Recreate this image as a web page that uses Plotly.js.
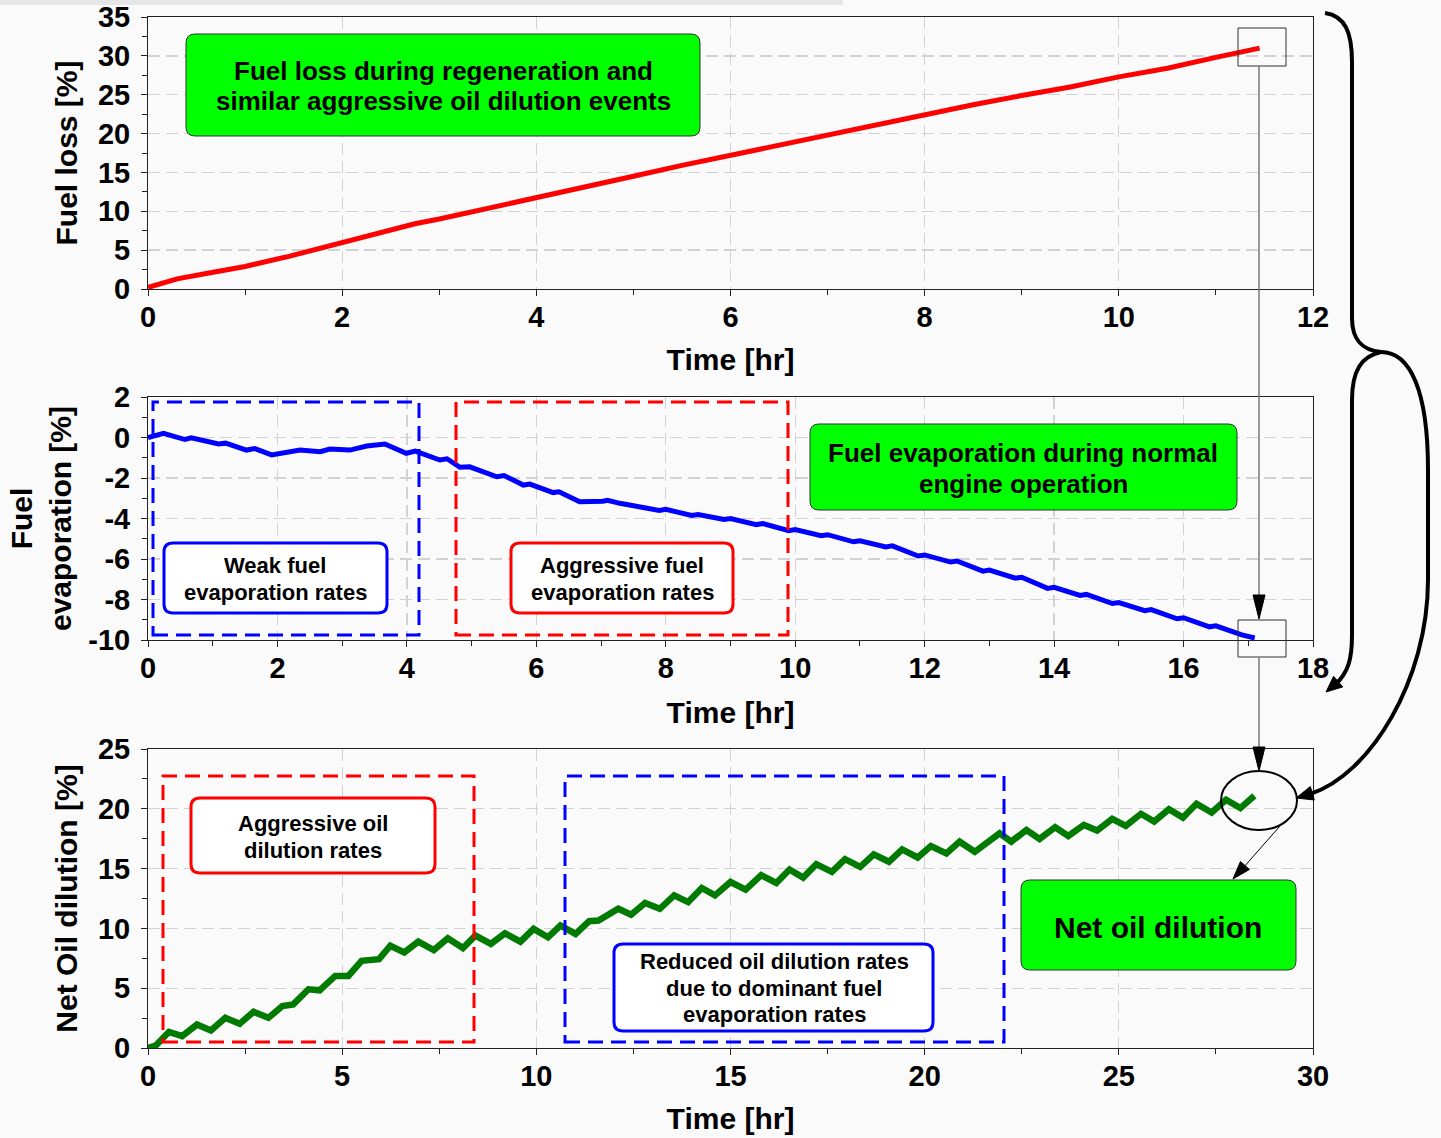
<!DOCTYPE html>
<html><head><meta charset="utf-8">
<script src="https://cdn.plot.ly/plotly-3.0.1.min.js"></script>
<style>html,body{margin:0;padding:0;background:#fafafa}</style>
</head><body><div id="chart" style="width:1441px;height:1138px"></div>
<script>
// ---------- data ----------
const fuelLossTime = [0,0.3,0.6,1.0,1.45,1.7,2.0,2.4,2.75,3.0,3.4,4.0,4.5,5.0,5.5,6.0,6.5,7.0,7.5,8.0,8.5,9.0,9.5,10.0,10.5,11.0,11.45];
const fuelLoss     = [0.2,1.3,2.0,2.9,4.2,5.0,6.1,7.3,8.4,9.0,10.1,11.6,13.0,14.5,15.9,17.2,18.5,19.8,21.1,22.5,23.7,24.9,26.0,27.3,28.4,29.8,31.0];

const evapTime = [0,0.24,0.57,0.67,1.09,1.2,1.52,1.65,1.91,2.1,2.35,2.66,2.81,3.12,3.38,3.66,3.99,4.13,4.51,4.62,4.82,4.97,5.39,5.5,5.8,5.9,6.26,6.35,6.67,7.03,7.1,7.29,7.6,7.9,8.0,8.4,8.5,8.9,9.0,9.4,9.5,9.9,10.0,10.4,10.5,10.9,11.0,11.4,11.5,11.9,12.0,12.4,12.5,12.9,13.0,13.4,13.5,13.9,14.0,14.4,14.5,14.9,15.0,15.4,15.5,15.9,16.0,16.4,16.5,16.9,17.1];
const fuelEvap = [0.0,0.2,-0.1,-0.02,-0.32,-0.28,-0.62,-0.55,-0.86,-0.78,-0.62,-0.7,-0.57,-0.62,-0.42,-0.32,-0.78,-0.67,-1.11,-1.05,-1.47,-1.45,-1.94,-1.88,-2.35,-2.3,-2.72,-2.68,-3.17,-3.15,-3.1,-3.25,-3.45,-3.6,-3.55,-3.85,-3.8,-4.05,-4.0,-4.3,-4.25,-4.6,-4.55,-4.85,-4.8,-5.15,-5.1,-5.4,-5.35,-5.85,-5.8,-6.15,-6.1,-6.6,-6.55,-6.95,-6.9,-7.45,-7.4,-7.8,-7.75,-8.2,-8.15,-8.55,-8.5,-8.95,-8.9,-9.35,-9.3,-9.75,-9.9];
const evapTickVals = [2,0,-2,-4,-6,-8,-10];
const evapTickText = ['2','0','-2','-4','-6','-8','-10'];

const netTime = [0,0.2,0.54,0.88,1.26,1.62,1.99,2.36,2.72,3.10,3.46,3.74,4.13,4.42,4.82,5.16,5.5,5.95,6.24,6.6,6.96,7.36,7.72,8.11,8.43,8.83,9.19,9.59,9.93,10.3,10.62,11.01,11.36,11.6,12.11,12.44,12.8,13.18,13.55,13.91,14.26,14.6,15.0,15.39,15.79,16.18,16.52,16.87,17.21,17.61,17.95,18.34,18.69,19.08,19.42,19.82,20.16,20.56,20.9,21.29,21.93,22.23,22.62,22.96,23.36,23.7,24.1,24.44,24.83,25.18,25.57,25.91,26.29,26.65,27.0,27.39,27.76,28.13,28.49];
const netDilution = [0,0.2,1.35,1.0,1.96,1.46,2.52,2.02,3.03,2.52,3.51,3.65,4.91,4.82,6.03,6.03,7.29,7.43,8.55,7.99,8.89,8.19,9.17,8.36,9.4,8.7,9.59,8.89,9.96,9.26,10.24,9.54,10.6,10.66,11.64,11.14,12.12,11.64,12.76,12.2,13.38,12.76,13.88,13.24,14.45,13.8,14.92,14.25,15.37,14.73,15.79,15.15,16.19,15.57,16.61,15.93,16.89,16.27,17.25,16.41,17.95,17.25,18.23,17.48,18.46,17.73,18.65,18.18,19.16,18.57,19.58,18.93,19.97,19.27,20.42,19.69,20.76,20.06,21.09];

// ---------- geometry helpers (pixel -> paper) ----------
const L=148,R=1313,T=17,B=1048,W=R-L,H=B-T;
const px=x=>(x-L)/W, py=y=>(B-y)/H;
function path(segs){
  return segs.map(s=>{
    if(s[0]==='Z') return 'Z';
    let out=s[0];
    for(let i=1;i<s.length;i+=2){ out+=' '+px(s[i]).toFixed(5)+','+py(s[i+1]).toFixed(5)+' '; }
    return out.trim();
  }).join(' ');
}
function roundRect(x0,y0,x1,y1,r){
  return path([['M',x0+r,y0],['L',x1-r,y0],['Q',x1,y0,x1,y0+r],['L',x1,y1-r],['Q',x1,y1,x1-r,y1],
    ['L',x0+r,y1],['Q',x0,y1,x0,y1-r],['L',x0,y0+r],['Q',x0,y0,x0+r,y0],['Z']]);
}
function arrowHead(tx,ty,dx,dy,len,hw){
  const n=Math.hypot(dx,dy); dx/=n; dy/=n;
  const bx=tx-dx*len, by=ty-dy*len;
  return {type:'path',xref:'paper',yref:'paper',layer:'above',
    path:path([['M',tx,ty],['L',bx-dy*hw,by+dx*hw],['L',bx+dy*hw,by-dx*hw],['Z']]),
    fillcolor:'#000',line:{color:'#000',width:1}};
}
function pRect(x0,y0,x1,y1,color,dash,width,fill){
  return {type:'rect',xref:'paper',yref:'paper',layer:'above',x0:px(x0),x1:px(x1),y0:py(y1),y1:py(y0),
    line:{color:color,width:width,dash:dash||'solid'},fillcolor:fill||'rgba(0,0,0,0)'};
}
function rBox(x0,y0,x1,y1,border,bw,fill){
  return {type:'path',xref:'paper',yref:'paper',layer:'above',path:roundRect(x0,y0,x1,y1,9),
    line:{color:border,width:bw},fillcolor:fill};
}
const FONT='Liberation Sans, Arial, sans-serif';
function labelLines(lines,cx,cy,size,gap){
  const n=lines.length;
  return lines.map((t,i)=>({xref:'paper',yref:'paper',x:px(cx),y:py(cy+(i-(n-1)/2)*gap),
    xanchor:'center',yanchor:'middle',showarrow:false,text:t,
    font:{family:FONT,size:size,color:'#000',weight:'bold'}}));
}

function axis(opts){
  return Object.assign({
    showline:true,linecolor:'#222',linewidth:1,mirror:true,zeroline:false,
    ticks:'outside',ticklen:6,tickcolor:'#222',tickwidth:1,
    showgrid:true,gridcolor:'#d2d2d2',gridwidth:1.3,griddash:'12px,6px',
    tickfont:{family:FONT,size:29,color:'#000',weight:'bold'},
    automargin:false,fixedrange:true
  },opts);
}
function title(t,standoff){return {text:t,standoff:standoff,font:{family:FONT,size:30,color:'#000',weight:'bold'}};}
const minorX=(d)=>({dtick:d,tick0:0,ticks:'outside',ticklen:5,tickcolor:'#222',showgrid:false});

const traces=[
  {x:fuelLossTime,y:fuelLoss,xaxis:'x',yaxis:'y',mode:'lines',line:{color:'#ff0000',width:5},hoverinfo:'skip'},
  {x:evapTime,y:fuelEvap,xaxis:'x2',yaxis:'y2',mode:'lines',line:{color:'#0000ff',width:5},hoverinfo:'skip'},
  {x:netTime,y:netDilution,xaxis:'x3',yaxis:'y3',mode:'lines',line:{color:'#007a00',width:6.5},hoverinfo:'skip'}
];

const shapes=[
  {type:'rect',xref:'paper',yref:'paper',layer:'below',x0:px(0),x1:px(843),y0:py(5),y1:py(0),fillcolor:'#e6e6e6',line:{width:0}},
  rBox(186,34,700,136,'#333',1,'#00ff00'),
  pRect(153,402,419,635,'#0000ff','15px,8px',3),
  pRect(456,402,788,635,'#ff0000','15px,8px',3),
  rBox(164,543,387,613,'#0000ff',3,'#ffffff'),
  rBox(511,543,733,613,'#ff0000',3,'#ffffff'),
  rBox(810,424,1237,510,'#333',1,'#00ff00'),
  pRect(163,776,474,1042,'#ff0000','15px,8px',3),
  pRect(565,776,1004,1042,'#0000ff','15px,8px',3),
  rBox(191,798,435,873,'#ff0000',3,'#ffffff'),
  rBox(614,944,933,1031,'#0000ff',3,'#ffffff'),
  rBox(1021,880,1296,970,'#333',1,'#00ff00'),
  pRect(1238,28,1286,66,'#333','solid',1),
  pRect(1238,620,1286,657,'#333','solid',1),
  {type:'line',xref:'paper',yref:'paper',layer:'above',x0:px(1259),x1:px(1259),y0:py(66),y1:py(605),line:{color:'#777',width:1.5}},
  {type:'line',xref:'paper',yref:'paper',layer:'above',x0:px(1259),x1:px(1259),y0:py(657),y1:py(758),line:{color:'#777',width:1.5}},
  arrowHead(1259,619,0,1,24,6),
  arrowHead(1259,771,0,1,24,6),
  {type:'circle',xref:'paper',yref:'paper',layer:'above',x0:px(1221),x1:px(1297),y0:py(830),y1:py(771),line:{color:'#000',width:2}},
  {type:'line',xref:'paper',yref:'paper',layer:'above',x0:px(1280),x1:px(1243),y0:py(826),y1:py(868),line:{color:'#000',width:1}},
  arrowHead(1233,879,-0.663,0.748,18,6),
  {type:'path',xref:'paper',yref:'paper',layer:'above',line:{color:'#000',width:4},
    path:path([['M',1325,13],['C',1345,16,1352,32,1352,62],['L',1352,318],['C',1352,340,1362,350,1381,352]])},
  {type:'path',xref:'paper',yref:'paper',layer:'above',line:{color:'#000',width:4},
    path:path([['M',1381,352],['C',1362,356,1352,370,1352,400],['L',1352,635],['C',1352,660,1348,672,1336,684]])},
  arrowHead(1326,692,-0.76,0.65,16,7),
  {type:'path',xref:'paper',yref:'paper',layer:'above',line:{color:'#000',width:4},
    path:path([['M',1381,352],['C',1410,352,1428,390,1428,470],['L',1428,580],['C',1428,680,1370,775,1310,794]])},
  arrowHead(1296,798,-0.96,0.28,17,7)
];

const annotations=[].concat(
  labelLines(['Fuel loss during regeneration and','similar aggressive oil dilution events'],443,86,26,31),
  labelLines(['Fuel evaporation during normal','engine operation'],1023,468,26,31),
  labelLines(['Weak fuel','evaporation rates'],275,579,22,27),
  labelLines(['Aggressive fuel','evaporation rates'],622,579,22,27),
  labelLines(['Aggressive oil','dilution rates'],313,837,22,26),
  labelLines(['Reduced oil dilution rates','due to dominant fuel','evaporation rates'],774,988,22,26.5),
  labelLines(['Net oil dilution'],1158,927,30,30)
);

const yTop=[(B-289)/H,1], yMid=[(B-640)/H,(B-397)/H], yBot=[0,(B-749)/H];
const layout={
  width:1441,height:1138,
  margin:{l:L,r:1441-R,t:T,b:1138-B,pad:0},
  paper_bgcolor:'#fafafa',plot_bgcolor:'#fafafa',showlegend:false,
  font:{family:FONT,color:'#000'},
  xaxis:axis({domain:[0,1],anchor:'y',range:[0,12],dtick:2,tick0:0,ticklabelstandoff:-4,
    minor:minorX(1),title:title('Time [hr]',17)}),
  yaxis:axis({domain:yTop,anchor:'x',range:[0,35],dtick:5,tick0:0,ticklabelstandoff:5,
    minor:minorX(2.5),title:title('Fuel loss [%]',11)}),
  xaxis2:axis({domain:[0,1],anchor:'y2',range:[0,18],dtick:2,tick0:0,ticklabelstandoff:-4,
    minor:minorX(1),title:title('Time [hr]',19)}),
  yaxis2:axis({domain:yMid,anchor:'x2',range:[-10,2],tickmode:'array',tickvals:evapTickVals,ticktext:evapTickText,ticklabelstandoff:5,
    minor:minorX(1),title:title('Fuel<br>evaporation [%]',7)}),
  xaxis3:axis({domain:[0,1],anchor:'y3',range:[0,30],dtick:5,tick0:0,ticklabelstandoff:-4,
    minor:minorX(2.5),title:title('Time [hr]',17)}),
  yaxis3:axis({domain:yBot,anchor:'x3',range:[0,25],dtick:5,tick0:0,ticklabelstandoff:5,
    minor:minorX(2.5),title:title('Net Oil dilution [%]',11)}),
  shapes:shapes,annotations:annotations
};
Plotly.newPlot('chart',traces,layout,{displayModeBar:false,staticPlot:true});
</script></body></html>
